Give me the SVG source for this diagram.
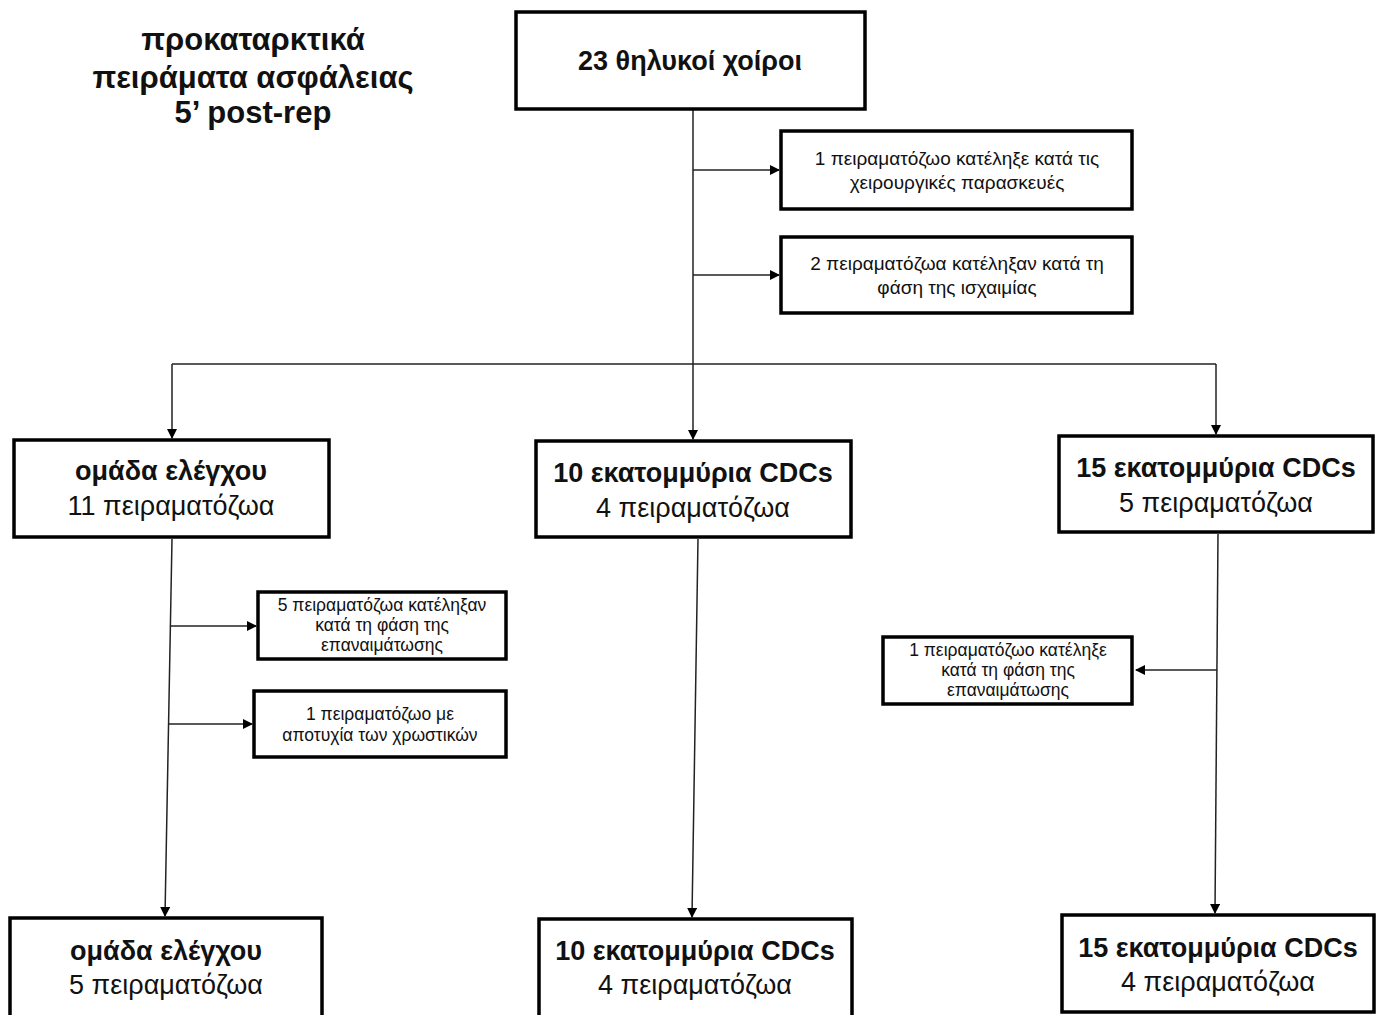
<svg xmlns="http://www.w3.org/2000/svg" width="1383" height="1015" viewBox="0 0 1383 1015">
<defs>
<style>
.box{fill:#fff;stroke:#000;stroke-width:3.5}
.t{font-family:"Liberation Sans",Arial,sans-serif;fill:#111;text-anchor:middle}
.b{font-weight:bold;font-size:27px}
.r{font-size:27px}
.s{font-size:19px}
.m{font-size:17.5px}
.title{font-weight:bold;font-size:31px}
.c{fill:none;stroke:#222;stroke-width:1.5}
</style>
<marker id="ah" markerWidth="10" markerHeight="10" refX="9" refY="5" orient="auto" markerUnits="userSpaceOnUse">
<path d="M0,0 L10,5 L0,10 Z" fill="#000"/>
</marker>
</defs>
<rect width="1383" height="1015" fill="#fff"/>
<g id="title">
<text class="t title" x="253" y="50">προκαταρκτικά</text>
<text class="t title" x="253" y="88">πειράματα ασφάλειας</text>
<text class="t title" x="253" y="123">5’ post-rep</text>
</g>
<g id="connectors">
<line class="c" x1="693" y1="109" x2="693" y2="364"/>
<line class="c" x1="693" y1="170" x2="779" y2="170" marker-end="url(#ah)"/>
<line class="c" x1="693" y1="275" x2="779" y2="275" marker-end="url(#ah)"/>
<line class="c" x1="172" y1="364" x2="1216" y2="364"/>
<line class="c" x1="693" y1="364" x2="693" y2="439" marker-end="url(#ah)"/>
<line class="c" x1="172" y1="364" x2="172" y2="438" marker-end="url(#ah)"/>
<line class="c" x1="1216" y1="364" x2="1216" y2="434" marker-end="url(#ah)"/>
<line class="c" x1="172" y1="539" x2="165" y2="916" marker-end="url(#ah)"/>
<line class="c" x1="171" y1="626" x2="256" y2="626" marker-end="url(#ah)"/>
<line class="c" x1="169" y1="724" x2="252" y2="724" marker-end="url(#ah)"/>
<line class="c" x1="698" y1="539" x2="692" y2="917" marker-end="url(#ah)"/>
<line class="c" x1="1218" y1="534" x2="1215" y2="913" marker-end="url(#ah)"/>
<line class="c" x1="1217" y1="670" x2="1136" y2="670" marker-end="url(#ah)"/>
</g>
<g id="n_top">
<rect class="box" x="516" y="12" width="349" height="97"/>
<text class="t b" x="690" y="70">23 θηλυκοί χοίροι</text>
</g>
<g id="n_surg">
<rect class="box" x="781" y="131" width="351" height="78"/>
<text class="t s" x="957" y="165">1 πειραματόζωο κατέληξε κατά τις</text>
<text class="t s" x="957" y="189">χειρουργικές παρασκευές</text>
</g>
<g id="n_isch">
<rect class="box" x="781" y="237" width="351" height="76"/>
<text class="t s" x="957" y="270">2 πειραματόζωα κατέληξαν κατά τη</text>
<text class="t s" x="957" y="294">φάση της ισχαιμίας</text>
</g>
<g id="n_ctrl">
<rect class="box" x="14" y="440" width="315" height="97"/>
<text class="t b" x="171" y="480">ομάδα ελέγχου</text>
<text class="t r" x="171" y="515">11 πειραματόζωα</text>
</g>
<g id="n_10m">
<rect class="box" x="536" y="441" width="315" height="96"/>
<text class="t b" x="693" y="482">10 εκατομμύρια CDCs</text>
<text class="t r" x="693" y="517">4 πειραματόζωα</text>
</g>
<g id="n_15m">
<rect class="box" x="1059" y="436" width="314" height="96"/>
<text class="t b" x="1216" y="477">15 εκατομμύρια CDCs</text>
<text class="t r" x="1216" y="512">5 πειραματόζωα</text>
</g>
<g id="n_ctrl_rep">
<rect class="box" x="258" y="592" width="248" height="67"/>
<text class="t m" x="382" y="611">5 πειραματόζωα κατέληξαν</text>
<text class="t m" x="382" y="631">κατά τη φάση της</text>
<text class="t m" x="382" y="651">επαναιμάτωσης</text>
</g>
<g id="n_ctrl_dye">
<rect class="box" x="254" y="691" width="252" height="66"/>
<text class="t m" x="380" y="720">1 πειραματόζωο με</text>
<text class="t m" x="380" y="741">αποτυχία των χρωστικών</text>
</g>
<g id="n_15_rep">
<rect class="box" x="883" y="637" width="249" height="67"/>
<text class="t m" x="1008" y="656">1 πειραματόζωο κατέληξε</text>
<text class="t m" x="1008" y="676">κατά τη φάση της</text>
<text class="t m" x="1008" y="696">επαναιμάτωσης</text>
</g>
<g id="n_ctrl_end">
<rect class="box" x="10" y="918" width="312" height="100"/>
<text class="t b" x="166" y="960">ομάδα ελέγχου</text>
<text class="t r" x="166" y="994">5 πειραματόζωα</text>
</g>
<g id="n_10m_end">
<rect class="box" x="539" y="919" width="313" height="100"/>
<text class="t b" x="695" y="960">10 εκατομμύρια CDCs</text>
<text class="t r" x="695" y="994">4 πειραματόζωα</text>
</g>
<g id="n_15m_end">
<rect class="box" x="1062" y="915" width="312" height="97"/>
<text class="t b" x="1218" y="957">15 εκατομμύρια CDCs</text>
<text class="t r" x="1218" y="991">4 πειραματόζωα</text>
</g>
</svg>
